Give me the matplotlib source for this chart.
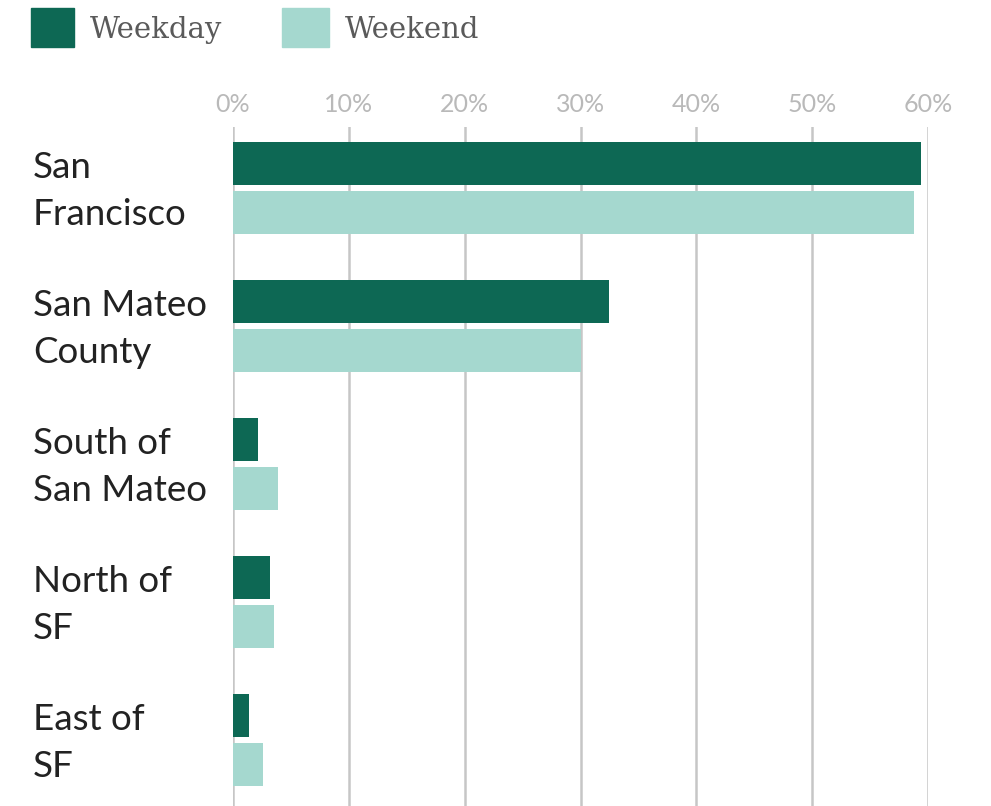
import matplotlib.pyplot as plt
from matplotlib.patches import Rectangle
from matplotlib.transforms import blended_transform_factory

# data
regions = ["San\nFrancisco", "San Mateo\nCounty", "South of\nSan Mateo", "North of\nSF", "East of\nSF"]
weekday = [59.4, 32.5, 2.2, 3.2, 1.4]
weekend = [58.8, 30.0, 3.9, 3.5, 2.6]
ticks = [0, 10, 20, 30, 40, 50, 60]
tick_labels = ["0%", "10%", "20%", "30%", "40%", "50%", "60%"]

c_weekday = "#0d6854"
c_weekend = "#a5d8cf"
grid_c = "#c6c6c6"

W, H = 991, 806
fig = plt.figure(figsize=(W / 100, H / 100), dpi=100)
# axes in pixel coords: x 233..928, y 127..806
ax = fig.add_axes([233 / W, 0, (928 - 233) / W, (806 - 127) / H])

bh = 43 / 138
off = 24.5 / 138
idx = list(range(len(regions)))
ax.barh([i - off for i in idx], weekday, height=bh, color=c_weekday, zorder=3)
ax.barh([i + off for i in idx], weekend, height=bh, color=c_weekend, zorder=3)

ax.set_xlim(0, 60)
ax.set_ylim(4.478, -0.442)

for t in ticks:
    ax.axvline(t, color=grid_c, lw=1.8, zorder=1)

for s in ax.spines.values():
    s.set_visible(False)
ax.set_yticks([])
ax.xaxis.tick_top()
ax.set_xticks(ticks)
ax.set_xticklabels(tick_labels)
ax.tick_params(axis="x", length=0, pad=8, labelsize=18, labelcolor="#b9b9b9")
for lab in ax.get_xticklabels():
    lab.set_fontfamily("Lato")

tr = blended_transform_factory(fig.transFigure, ax.transData)
for i, r in enumerate(regions):
    ax.text(33 / W, i + 0.02, r, transform=tr, ha="left", va="center",
            fontsize=26.5, family="Lato", color="#222222", linespacing=1.5)

# legend
fig.add_artist(Rectangle((31 / W, 1 - 47 / H), 43 / W, 39 / H,
                         transform=fig.transFigure, color=c_weekday))
fig.text(90 / W, 1 - 30 / H, "Weekday", ha="left", va="center",
         fontsize=21, family="DejaVu Serif", color="#5a5a5a")
fig.add_artist(Rectangle((282 / W, 1 - 47 / H), 47 / W, 39 / H,
                         transform=fig.transFigure, color=c_weekend))
fig.text(345 / W, 1 - 30 / H, "Weekend", ha="left", va="center",
         fontsize=21, family="DejaVu Serif", color="#5a5a5a")

fig.savefig("out.png", dpi=100)
